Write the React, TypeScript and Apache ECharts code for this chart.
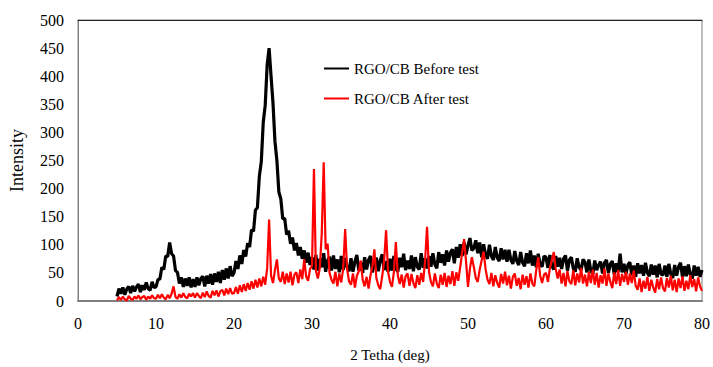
import React, { useEffect, useRef } from "react";
import * as echarts from "echarts";

// Scan grid (2θ, degrees)
const scanStart = 5;
const scanStep = 0.25;

// Intensity readings, one row per 5° (20 points), last value at 80°
const beforeTest = [
  8, 22, 13, 24, 11, 21, 26, 14, 27, 17, 25, 30, 16, 28, 20, 33, 22, 19, 34, 24,
  25, 38, 39, 60, 56, 80, 79, 104, 84, 80, 54, 51, 31, 42, 25, 40, 27, 42, 24, 39,
  25, 42, 28, 40, 44, 26, 45, 31, 48, 29, 49, 34, 52, 32, 55, 38, 58, 40, 62, 44,
  50, 71, 57, 81, 66, 91, 79, 103, 96, 127, 124, 162, 166, 222, 248, 318, 348, 420, 450, 400,
  352, 284, 250, 194, 182, 146, 147, 118, 125, 102, 113, 90, 103, 81, 96, 75, 90, 68, 86, 64,
  78, 56, 82, 54, 75, 60, 85, 52, 72, 79, 54, 81, 57, 74, 51, 80, 55, 77, 60, 53,
  76, 52, 70, 82, 54, 68, 50, 78, 56, 73, 80, 51, 69, 77, 53, 72, 83, 55, 71, 52,
  75, 54, 80, 58, 52, 77, 60, 84, 55, 72, 57, 81, 53, 78, 61, 56, 85, 59, 76, 58,
  80, 61, 85, 65, 58, 87, 68, 83, 63, 90, 70, 86, 92, 67, 96, 77, 101, 80, 104, 83,
  99, 112, 90, 94, 108, 85, 104, 78, 101, 83, 75, 100, 80, 73, 96, 77, 71, 94, 74, 91,
  70, 91, 73, 66, 89, 71, 64, 87, 68, 62, 85, 67, 90, 63, 81, 60, 84, 65, 61, 80,
  78, 59, 82, 62, 56, 80, 61, 77, 57, 75, 81, 54, 73, 78, 58, 52, 76, 60, 55, 74,
  69, 51, 74, 54, 48, 72, 55, 64, 70, 49, 68, 73, 50, 66, 71, 47, 67, 52, 84, 51,
  66, 48, 64, 69, 46, 63, 43, 67, 49, 64, 45, 68, 50, 44, 65, 47, 63, 42, 66, 48,
  46, 63, 43, 66, 48, 41, 64, 45, 61, 68, 42, 62, 44, 65, 47, 40, 63, 45, 61, 43,
  55,
];

const afterTest = [
  1, 7, 2, 8, 3, 1, 9, 4, 2, 8, 4, 10, 3, 7, 9, 2, 8, 4, 10, 5,
  4, 11, 5, 12, 6, 3, 11, 5, 13, 26, 7, 4, 12, 6, 14, 7, 5, 13, 8, 14,
  6, 14, 9, 5, 15, 7, 17, 9, 6, 18, 10, 19, 8, 17, 20, 10, 22, 12, 23, 13,
  14, 25, 13, 28, 16, 30, 18, 32, 20, 35, 22, 38, 24, 40, 26, 43, 29, 58, 145, 45,
  32, 55, 74, 40, 34, 52, 30, 49, 33, 52, 28, 47, 51, 32, 56, 39, 74, 44, 36, 57,
  62, 235, 54, 40, 58, 120, 247, 92, 102, 50, 38, 31, 52, 26, 49, 33, 58, 128, 57, 35,
  29, 49, 24, 45, 53, 72, 38, 26, 43, 22, 46, 62, 92, 41, 28, 21, 44, 72, 126, 52,
  34, 25, 52, 105, 46, 30, 47, 24, 44, 49, 27, 48, 32, 23, 46, 29, 50, 34, 72, 132,
  52, 34, 26, 49, 31, 23, 47, 29, 50, 25, 45, 30, 53, 27, 51, 36, 60, 86, 110, 70,
  25, 58, 78, 60, 41, 34, 56, 72, 88, 57, 38, 30, 50, 26, 46, 32, 24, 48, 31, 52,
  28, 45, 22, 43, 49, 27, 41, 21, 47, 29, 44, 24, 49, 31, 26, 55, 78, 45, 32, 47,
  50, 34, 58, 73, 87, 57, 40, 56, 31, 50, 26, 53, 35, 30, 55, 28, 49, 33, 59, 31,
  47, 26, 52, 32, 56, 29, 50, 24, 46, 31, 58, 27, 49, 34, 23, 51, 30, 55, 27, 48,
  34, 52, 29, 49, 32, 54, 27, 20, 40, 16, 36, 22, 43, 18, 38, 24, 15, 39, 21, 42,
  23, 17, 41, 24, 45, 19, 38, 16, 40, 23, 44, 18, 36, 21, 46, 25, 39, 17, 42, 26,
  18,
];

const seriesNames = ["RGO/CB Before test", "RGO/CB After test"];
const xAxisTitle = "2 Tetha (deg)";
const yAxisTitle = "Intensity";

const FONT = "'Liberation Serif', 'Times New Roman', serif";

function toPairs(values: number[]) {
  return values.map((v, i) => [scanStart + i * scanStep, v]);
}

export default function App() {
  const ref = useRef<HTMLDivElement>(null);
  useEffect(() => {
    if (!ref.current) return;
    const chart = echarts.init(ref.current, null, { renderer: "svg" });
    chart.setOption({
      animation: false,
      backgroundColor: "#fff",
      grid: {
        left: 78,
        top: 20,
        right: 8,
        bottom: 65,
        show: true,
        borderColor: "#7f7f7f",
        borderWidth: 1,
      },
      legend: {
        orient: "vertical",
        left: 319,
        top: 56,
        itemWidth: 25,
        itemHeight: 2,
        itemGap: 15,
        icon: "rect",
        textStyle: { fontFamily: FONT, fontSize: 15, color: "#000" },
        data: seriesNames,
      },
      xAxis: [
        {
          type: "value",
          min: 0,
          max: 80,
          interval: 10,
          name: xAxisTitle,
          nameLocation: "middle",
          nameGap: 46,
          nameTextStyle: { fontFamily: FONT, fontSize: 15, color: "#000" },
          axisLine: { show: true, lineStyle: { color: "#7f7f7f", width: 2 } },
          axisTick: { show: false },
          splitLine: { show: false },
          axisLabel: { fontFamily: FONT, fontSize: 16, color: "#000", margin: 14 },
        },
        {
          type: "value",
          position: "top",
          min: 0,
          max: 80,
          interval: 10,
          axisLine: { show: true, lineStyle: { color: "#222", width: 1 } },
          axisTick: { show: false },
          axisLabel: { show: false },
          splitLine: { show: false },
        },
      ],
      yAxis: {
        type: "value",
        min: 0,
        max: 500,
        interval: 50,
        name: yAxisTitle,
        nameLocation: "middle",
        nameGap: 52,
        nameTextStyle: { fontFamily: FONT, fontSize: 18, color: "#000" },
        axisLine: { show: true, lineStyle: { color: "#7f7f7f", width: 1 } },
        axisTick: { show: false },
        splitLine: { show: false },
        axisLabel: { fontFamily: FONT, fontSize: 16, color: "#000", margin: 14 },
      },
      series: [
        {
          name: seriesNames[0],
          type: "line",
          data: toPairs(beforeTest),
          showSymbol: false,
          symbol: "none",
          color: "#000000",
          lineStyle: { color: "#000000", width: 3.2 },
          emphasis: { disabled: true },
        },
        {
          name: seriesNames[1],
          type: "line",
          data: toPairs(afterTest),
          showSymbol: false,
          symbol: "none",
          color: "#ff0000",
          lineStyle: { color: "#ff0000", width: 2.2 },
          emphasis: { disabled: true },
        },
      ],
    });
    return () => chart.dispose();
  }, []);
  return (
    <div
      ref={ref}
      style={{ position: "fixed", left: 0, top: 0, width: 713, height: 367, background: "#fff" }}
    />
  );
}
